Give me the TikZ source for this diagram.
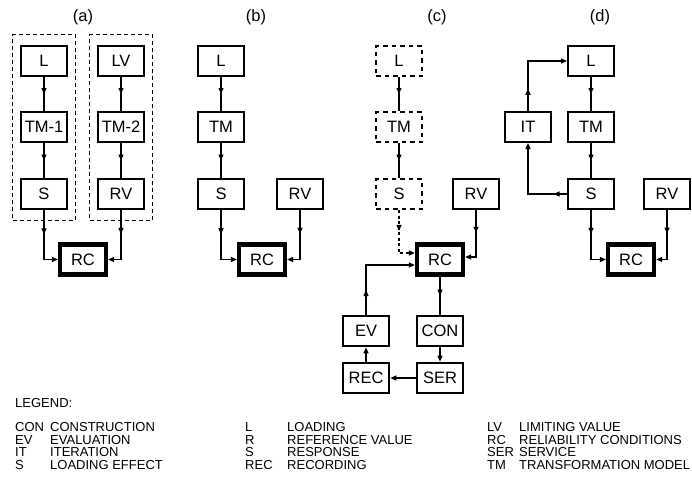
\documentclass[tikz,border=0pt]{standalone}
\usepackage{fontspec}
\setmainfont{Liberation Sans}
\usetikzlibrary{arrows.meta,decorations.markings,fit}

\newcommand{\boxfont}{\fontsize{16.5}{19}\selectfont}
\newcommand{\legfont}{\fontsize{13}{15}\selectfont}

\tikzset{
  box/.style={draw, line width=2pt, minimum width=46pt, minimum height=30pt, inner sep=0pt, font=\boxfont},
  thickbox/.style={box, line width=2.7pt},
  rcbox/.style={box, line width=4.2pt},
  dashbox/.style={box, line width=2.8pt, dash pattern=on 4.5pt off 4pt},
  frame/.style={draw, line width=1.2pt, dash pattern=on 4pt off 3pt, inner xsep=7pt, inner ysep=10pt},
  link/.style={line width=1.3pt},
  linkdash/.style={link, dash pattern=on 3pt off 2.5pt},
  flowtip/.tip={Triangle[length=6pt,width=5pt]},
  midarrow/.style={postaction={decorate}, decoration={markings, mark=at position #1 with {\arrow{Triangle[length=6pt,width=5pt]}}}},
  midarrow/.default=0.5,
  legend/.style={anchor=west, inner sep=0pt, font=\legfont, text height=9.3pt, text depth=0pt},
  panel/.style={font=\fontsize{16.5}{19}\selectfont}
}

\begin{document}
\begin{tikzpicture}[x=1pt,y=-1pt]
  \useasboundingbox (0,0) rectangle (692,483);

  % panel titles
  \node[panel] (pa) at (83,17) {(a)};
  \node[panel] (pb) at (256,17) {(b)};
  \node[panel] (pc) at (437,17) {(c)};
  \node[panel] (pd) at (600,17) {(d)};

  % (a)
  \node[thickbox] (La) at (44,61) {L};
  \node[thickbox] (TMa1) at (44,127) {TM-1};
  \node[thickbox] (Sa) at (44,194) {S};
  \node[thickbox] (LVa) at (121,61) {LV};
  \node[thickbox] (TMa2) at (121,127) {TM-2};
  \node[thickbox] (RVa) at (121,194) {RV};
  \node[rcbox] (RCa) at (83,259.5) {RC};
  \node[frame, fit=(La)(Sa)] (Fa1) {};
  \node[frame, fit=(LVa)(RVa)] (Fa2) {};
  \draw[link,midarrow] (La) -- (TMa1);
  \draw[link,midarrow] (TMa1) -- (Sa);
  \draw[link,midarrow=0.38,-flowtip] (Sa) |- (RCa);
  \draw[link,midarrow] (LVa) -- (TMa2);
  \draw[link,midarrow] (TMa2) -- (RVa);
  \draw[link,midarrow=0.38,-flowtip] (RVa) |- (RCa);

  % (b)
  \node[box] (Lb) at (221,61) {L};
  \node[box] (TMb) at (221,127) {TM};
  \node[box] (Sb) at (221,194) {S};
  \node[box] (RVb) at (300,194) {RV};
  \node[rcbox] (RCb) at (262,259.5) {RC};
  \draw[link,midarrow] (Lb) -- (TMb);
  \draw[link,midarrow] (TMb) -- (Sb);
  \draw[link,midarrow=0.37,-flowtip] (Sb) |- (RCb);
  \draw[link,midarrow=0.38,-flowtip] (RVb) |- (RCb);

  % (c)
  \node[dashbox] (Lc) at (399,61) {L};
  \node[dashbox] (TMc) at (399,127) {TM};
  \node[dashbox] (Sc) at (399,194) {S};
  \node[thickbox] (RVc) at (476,194) {RV};
  \node[rcbox] (RCc) at (440,259.5) {RC};
  \node[thickbox] (EVc) at (366,331) {EV};
  \node[thickbox] (CONc) at (440,331) {CON};
  \node[thickbox] (RECc) at (366,378) {REC};
  \node[thickbox] (SERc) at (440,378) {SER};
  \draw[link,midarrow] (Lc) -- (TMc);
  \draw[link,midarrow] (TMc) -- (Sc);
  \draw[linkdash,midarrow=0.35,-flowtip] (Sc) |- ([yshift=6.5pt]RCc.west);
  \draw[link,midarrow=0.39,-flowtip] (RVc) |- ([yshift=2.5pt]RCc.east);
  \draw[link,midarrow=0.25,-flowtip] (EVc) |- ([yshift=-5.5pt]RCc.west);
  \draw[link,midarrow] (RCc) -- (CONc);
  \draw[link,-flowtip] (CONc) -- (SERc);
  \draw[link,-flowtip] (SERc) -- (RECc);
  \draw[link,-flowtip] (RECc) -- (EVc);

  % (d)
  \node[box] (ITd) at (528,127) {IT};
  \node[box] (Ld) at (591,61) {L};
  \node[box] (TMd) at (591,127) {TM};
  \node[box] (Sd) at (591,194) {S};
  \node[box] (RVd) at (667,194) {RV};
  \node[rcbox] (RCd) at (631,259.5) {RC};
  \draw[link,midarrow] (Ld) -- (TMd);
  \draw[link,midarrow] (TMd) -- (Sd);
  \draw[link,midarrow=0.15,-flowtip] (Sd) -| (ITd);
  \draw[link,midarrow=0.25,-flowtip] (ITd) |- (Ld);
  \draw[link,midarrow=0.37,-flowtip] (Sd) |- (RCd);
  \draw[link,midarrow=0.39,-flowtip] (RVd) |- (RCd);

  % legend
  \node[legend] (leg) at (15,403) {LEGEND:};
  \node[legend] (k1) at (15,427) {CON};
  \node[legend] (t1) at (50,427) {CONSTRUCTION};
  \node[legend] (k2) at (15,440) {EV};
  \node[legend] (t2) at (50,440) {EVALUATION};
  \node[legend] (k3) at (15,452) {IT};
  \node[legend] (t3) at (50,452) {ITERATION};
  \node[legend] (k4) at (15,465) {S};
  \node[legend] (t4) at (50,465) {LOADING EFFECT};
  \node[legend] (k5) at (245,427) {L};
  \node[legend] (t5) at (287,427) {LOADING};
  \node[legend] (k6) at (245,440) {R};
  \node[legend] (t6) at (287,440) {REFERENCE VALUE};
  \node[legend] (k7) at (245,452) {S};
  \node[legend] (t7) at (287,452) {RESPONSE};
  \node[legend] (k8) at (245,465) {REC};
  \node[legend] (t8) at (287,465) {RECORDING};
  \node[legend] (k9) at (487,427) {LV};
  \node[legend] (t9) at (519,427) {LIMITING VALUE};
  \node[legend] (k10) at (487,440) {RC};
  \node[legend] (t10) at (519,440) {RELIABILITY CONDITIONS};
  \node[legend] (k11) at (487,452) {SER};
  \node[legend] (t11) at (519,452) {SERVICE};
  \node[legend] (k12) at (487,465) {TM};
  \node[legend] (t12) at (519,465) {TRANSFORMATION MODEL};
\end{tikzpicture}
\end{document}
